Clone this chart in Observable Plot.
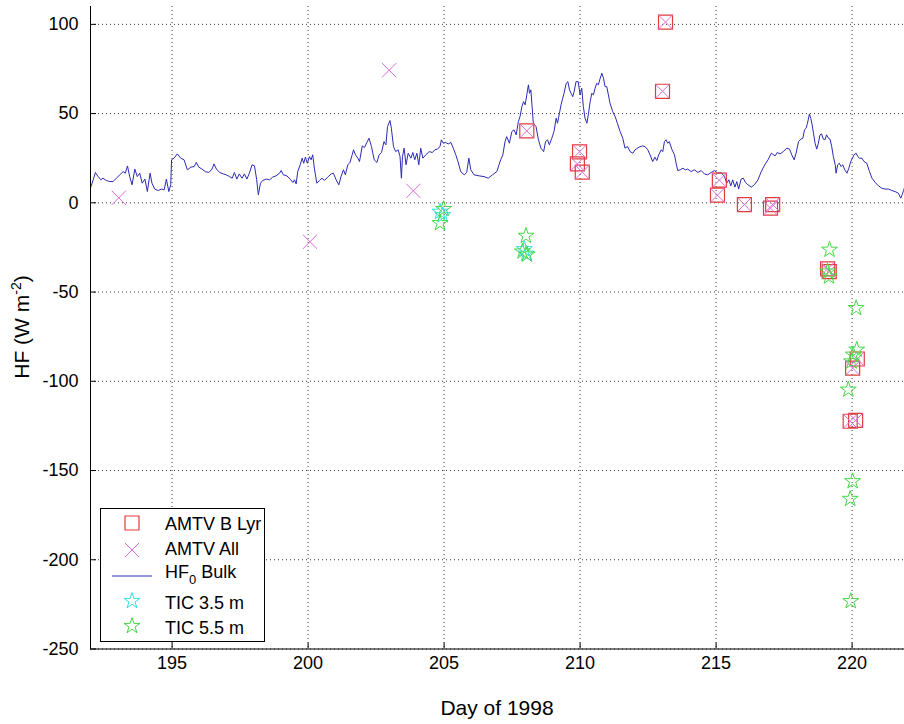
<!DOCTYPE html>
<html>
<head>
<meta charset="utf-8">
<script src="https://cdn.jsdelivr.net/npm/d3@7"></script>
<script src="https://cdn.jsdelivr.net/npm/@observablehq/plot@0.6"></script>
<style>
  body { margin: 0; background: #fff; }
  #chart svg { display: block; }
</style>
</head>
<body>
<div id="chart"></div>
<script>
// ---- tick values ----
const xTicks = [195, 200, 205, 210, 215, 220];
const yTicks = [-250, -200, -150, -100, -50, 0, 50, 100];

// ---- HF0 Bulk time series (day of 1998, W m-2) ----
const lineDay = [192.01,192.10,192.18,192.28,192.38,192.46,192.58,192.71,192.83,192.95,193.08,193.20,193.28,193.36,193.44,193.53,193.63,193.72,193.81,193.90,194.00,194.09,194.19,194.26,194.36,194.49,194.61,194.71,194.79,194.88,194.95,194.98,195.07,195.19,195.32,195.44,195.56,195.69,195.81,195.89,195.98,196.10,196.22,196.35,196.47,196.54,196.63,196.75,196.88,196.99,197.11,197.21,197.29,197.38,197.47,197.57,197.66,197.75,197.84,197.94,198.03,198.11,198.17,198.25,198.33,198.46,198.58,198.70,198.82,198.95,199.01,199.09,199.22,199.34,199.44,199.50,199.56,199.62,199.71,199.78,199.84,199.90,199.97,200.05,200.11,200.17,200.23,200.32,200.42,200.51,200.60,200.72,200.85,200.93,201.03,201.13,201.21,201.30,201.37,201.46,201.54,201.62,201.67,201.74,201.83,201.89,201.99,202.07,202.16,202.24,202.33,202.43,202.53,202.61,202.70,202.79,202.86,202.92,203.01,203.06,203.14,203.22,203.31,203.38,203.43,203.47,203.53,203.60,203.68,203.78,203.85,203.92,204.00,204.07,204.14,204.22,204.33,204.45,204.57,204.66,204.75,204.85,204.90,204.97,205.06,205.15,205.25,205.34,205.43,205.51,205.61,205.74,205.83,205.91,205.98,206.10,206.29,206.47,206.62,206.78,206.94,207.02,207.08,207.16,207.24,207.30,207.40,207.49,207.57,207.65,207.73,207.79,207.86,207.92,207.98,208.04,208.10,208.14,208.19,208.24,208.28,208.38,208.47,208.56,208.66,208.73,208.80,208.87,208.96,209.04,209.12,209.17,209.24,209.30,209.36,209.41,209.49,209.55,209.61,209.67,209.73,209.78,209.85,209.93,210.00,210.06,210.12,210.18,210.25,210.31,210.37,210.43,210.49,210.55,210.61,210.67,210.74,210.80,210.86,210.92,210.98,211.04,211.10,211.20,211.29,211.37,211.47,211.57,211.65,211.74,211.84,211.94,212.02,212.17,212.30,212.39,212.49,212.57,212.67,212.75,212.82,212.89,212.98,213.04,213.10,213.16,213.22,213.28,213.38,213.47,213.53,213.59,213.68,213.78,213.87,213.96,214.08,214.20,214.33,214.45,214.57,214.69,214.82,214.94,215.06,215.18,215.31,215.39,215.47,215.54,215.61,215.69,215.76,215.83,215.92,216.00,216.08,216.17,216.29,216.41,216.54,216.66,216.79,216.91,217.03,217.10,217.17,217.25,217.35,217.47,217.60,217.70,217.78,217.87,217.94,218.03,218.12,218.19,218.25,218.31,218.36,218.43,218.48,218.53,218.58,218.64,218.70,218.76,218.82,218.88,218.94,219.00,219.06,219.13,219.19,219.25,219.31,219.38,219.41,219.47,219.53,219.59,219.66,219.73,219.81,219.88,219.95,220.03,220.07,220.15,220.21,220.27,220.36,220.44,220.54,220.64,220.73,220.85,220.97,221.09,221.21,221.34,221.46,221.58,221.70,221.79,221.84,221.89,221.95];
const lineHF = [8.8,12.9,17.0,14.7,12.9,13.8,12.5,11.9,11.9,13.8,15.7,17.5,16.6,20.7,14.7,10.1,18.9,14.7,16.6,11.0,13.3,6.3,16.6,11.0,7.7,6.9,7.7,7.3,13.3,6.3,10.1,24.1,25.0,27.4,25.0,24.1,18.5,20.0,20.3,22.6,20.0,18.9,17.5,17.0,18.9,21.8,18.9,17.0,16.2,15.7,14.7,13.8,17.0,13.3,16.2,13.8,16.2,13.3,16.6,21.3,20.7,12.9,4.5,11.0,12.5,13.3,12.9,14.4,15.1,16.6,18.1,15.7,15.1,13.3,11.4,12.9,10.6,17.5,21.3,25.0,22.2,25.6,22.2,25.9,24.1,26.9,19.4,11.0,12.5,13.8,12.5,14.4,16.2,16.6,12.9,10.1,14.7,18.5,15.7,21.3,22.6,26.9,29.7,26.9,25.0,23.1,31.9,31.0,33.8,36.2,31.5,24.1,22.6,26.9,28.2,34.3,32.5,42.7,46.1,41.8,31.5,28.7,29.7,25.9,13.8,25.9,30.6,21.3,27.8,25.0,28.2,24.1,27.8,21.3,30.6,25.0,26.9,28.7,28.2,29.7,30.1,31.5,35.3,33.4,33.8,33.0,33.8,30.6,26.9,23.1,17.5,15.7,17.0,25.0,18.5,15.7,15.1,14.7,13.8,15.7,17.5,21.3,24.1,26.9,34.3,37.1,33.4,39.9,40.9,38.1,45.5,48.3,53.9,56.7,54.9,60.5,66.1,61.4,63.3,53.0,44.6,42.7,35.3,30.6,28.7,34.3,35.3,32.5,36.2,39.9,47.4,44.6,50.2,54.9,58.6,61.4,67.0,67.9,63.3,61.4,59.5,62.3,67.9,67.9,60.5,64.2,53.9,47.4,44.6,50.2,56.7,61.4,60.5,64.2,67.0,66.1,69.8,72.6,69.8,65.1,65.1,60.5,55.8,51.1,48.3,44.6,39.9,36.2,30.6,31.5,28.7,27.8,29.7,31.2,31.9,31.5,29.7,26.9,23.1,25.6,23.7,26.9,29.7,28.7,34.3,35.3,33.4,34.3,29.7,26.9,22.2,18.1,18.5,19.4,18.5,18.9,17.5,18.5,17.0,18.1,16.2,15.7,17.0,18.1,16.6,17.0,14.7,11.0,12.9,9.5,12.9,8.8,11.9,7.7,13.3,13.8,11.4,10.1,8.8,10.1,12.9,17.5,21.3,24.1,27.8,27.0,26.3,28.2,27.4,28.7,30.6,30.1,26.9,24.1,27.8,34.3,35.7,36.2,40.9,41.8,44.6,49.8,47.4,43.7,39.0,33.4,30.1,33.4,38.1,38.6,35.7,35.3,38.1,36.2,35.7,31.5,25.9,21.3,16.6,21.3,22.2,20.3,21.3,18.5,16.6,19.4,23.1,25.6,26.9,27.8,25.9,25.0,25.0,23.1,22.2,17.5,13.8,11.4,9.5,8.2,7.7,7.7,6.9,6.3,5.4,2.6,4.5,6.9,9.5];

// ---- AMTV B Lyr (squares) ----
const bLyrDay = [208.04, 209.98, 209.90, 210.08, 213.14, 213.03, 215.12, 215.05, 216.04, 217.08, 217.00, 219.10, 219.16, 220.19, 220.02, 219.93, 220.13];
const bLyrHF  = [40.3, 28.6, 21.8, 17.2, 101.3, 62.5, 12.7, 4.3, -1.0, -1.0, -3.0, -37.0, -38.5, -87.5, -92.6, -122.4, -121.9];

// ---- AMTV All (crosses) ----
const allDay = [193.04, 200.07, 202.98, 203.87, 208.04, 209.98, 209.90, 210.08, 213.14, 213.03, 215.12, 215.05, 216.04, 217.08, 217.00, 219.10, 219.16, 220.19, 220.02, 219.93, 220.13];
const allHF  = [2.8, -21.8, 74.3, 6.7, 40.3, 28.6, 21.8, 17.2, 101.3, 62.5, 12.7, 4.3, -1.0, -1.0, -3.0, -37.0, -38.5, -87.5, -92.6, -122.4, -121.9];

// ---- TIC 3.5 m (cyan stars) ----
const tic35Day = [204.85, 204.95, 207.95, 208.02];
const tic35HF  = [-5.0, -7.0, -26.0, -28.5];

// ---- TIC 5.5 m (green stars) ----
const tic55Day = [204.98, 204.85, 208.01, 207.88, 208.05, 219.17, 219.10, 219.15, 220.15, 220.17, 220.04, 219.98, 219.86, 220.02, 219.93, 219.95];
const tic55HF  = [-3.5, -11.4, -18.5, -27.3, -29.0, -26.3, -38.5, -41.3, -59.0, -82.3, -85.1, -88.9, -104.7, -156.0, -165.9, -223.2];

// ---- build tables ----
const lineData = lineDay.map((d, i) => ({day: d, hf: lineHF[i]}));
const bLyr = bLyrDay.map((d, i) => ({day: d, hf: bLyrHF[i]}));
const all = allDay.map((d, i) => ({day: d, hf: allHF[i]}));
const tic35 = tic35Day.map((d, i) => ({day: d, hf: tic35HF[i]}));
const tic55 = tic55Day.map((d, i) => ({day: d, hf: tic55HF[i]}));

const COL = {sq: "#e03c3c", x: "#dd6ad8", line: "#2b2bb5", c35: "#33dede", c55: "#45d845"};
const FONT = "'Liberation Sans', Arial, Helvetica, sans-serif";
const fmt = d => `${d}`;
const R = {sq: 7.9, x: 6.5, star: 5};

const chart = Plot.plot({
  width: 904,
  height: 724,
  marginLeft: 90,
  marginRight: 0,
  marginTop: 6,
  marginBottom: 75.5,
  style: {fontFamily: FONT, fontSize: "18px", background: "#fff", color: "#000", overflow: "visible"},
  x: {domain: [192, 222], range: [90, 906], label: null},
  y: {domain: [-250, 110], range: [648.5, 6], label: null},
  marks: [
    Plot.gridX(xTicks, {stroke: "#222", strokeOpacity: 0.9, strokeDasharray: "1,3"}),
    Plot.gridY(yTicks, {stroke: "#222", strokeOpacity: 0.9, strokeDasharray: "1,3"}),
    Plot.axisX(xTicks, {tickSize: -6, tickPadding: 13, tickFormat: fmt, fontSize: 18, label: null}),
    Plot.axisY(yTicks, {tickSize: -6, tickPadding: 18, tickFormat: fmt, fontSize: 18, label: null}),
    Plot.line(lineData, {x: "day", y: "hf", stroke: COL.line, strokeWidth: 1, clip: true}),
    Plot.dot(bLyr, {x: "day", y: "hf", symbol: "square", r: R.sq, stroke: COL.sq, fill: "none", strokeWidth: 1.2}),
    Plot.dot(all, {x: "day", y: "hf", symbol: "times", r: R.x, stroke: COL.x, fill: "none", strokeWidth: 1}),
    Plot.dot(tic35, {x: "day", y: "hf", symbol: "star", r: R.star, stroke: COL.c35, fill: "none", strokeWidth: 1}),
    Plot.dot(tic55, {x: "day", y: "hf", symbol: "star", r: R.star, stroke: COL.c55, fill: "none", strokeWidth: 1}),
    Plot.ruleX([192], {stroke: "#000", strokeWidth: 1}),
    Plot.ruleY([-250], {stroke: "#000", strokeWidth: 1})
  ]
});

document.getElementById("chart").appendChild(chart);

// ---- axis titles ----
const svg = d3.select(chart);
svg.append("text")
  .attr("x", 497).attr("y", 715)
  .attr("text-anchor", "middle")
  .attr("font-family", FONT).attr("font-size", 21).attr("fill", "#000")
  .text("Day of 1998");

const yl = svg.append("text")
  .attr("transform", "translate(29,327) rotate(-90)")
  .attr("text-anchor", "middle")
  .attr("font-family", FONT).attr("font-size", 21).attr("fill", "#000");
yl.append("tspan").text("HF (W m");
yl.append("tspan").attr("dy", -8).attr("font-size", 14).text("-2");
yl.append("tspan").attr("dy", 8).text(")");

// ---- legend ----
const lg = svg.append("g");
lg.append("rect").attr("x", 100.5).attr("y", 508.5).attr("width", 164).attr("height", 133)
  .attr("fill", "#fff").attr("stroke", "#000").attr("stroke-width", 1);
const sym = (type, r) => d3.symbol(type, Math.PI * r * r)();
const mx = 132;
lg.append("path").attr("d", sym(d3.symbolSquare, R.sq)).attr("transform", `translate(${mx},523)`)
  .attr("fill", "none").attr("stroke", COL.sq).attr("stroke-width", 1.2);
lg.append("path").attr("d", sym(d3.symbolTimes, R.x)).attr("transform", `translate(${mx},550)`)
  .attr("fill", "none").attr("stroke", COL.x).attr("stroke-width", 1);
lg.append("line").attr("x1", 112).attr("x2", 152).attr("y1", 576).attr("y2", 576)
  .attr("stroke", COL.line).attr("stroke-width", 1);
lg.append("path").attr("d", sym(d3.symbolStar, R.star)).attr("transform", `translate(${mx},601)`)
  .attr("fill", "none").attr("stroke", COL.c35).attr("stroke-width", 1);
lg.append("path").attr("d", sym(d3.symbolStar, R.star)).attr("transform", `translate(${mx},626)`)
  .attr("fill", "none").attr("stroke", COL.c55).attr("stroke-width", 1);

const legTexts = [["AMTV B Lyr", 530], ["AMTV All", 555], [null, 578], ["TIC 3.5 m", 609], ["TIC 5.5 m", 634]];
legTexts.forEach(([t, y]) => {
  const el = lg.append("text").attr("x", 165).attr("y", y)
    .attr("text-anchor", "start")
    .attr("font-family", FONT).attr("font-size", 18).attr("fill", "#000");
  if (t !== null) el.text(t);
  else {
    el.append("tspan").text("HF");
    el.append("tspan").attr("dy", 6).attr("font-size", 13).text("0");
    el.append("tspan").attr("dy", -6).text(" Bulk");
  }
});
</script>
</body>
</html>
